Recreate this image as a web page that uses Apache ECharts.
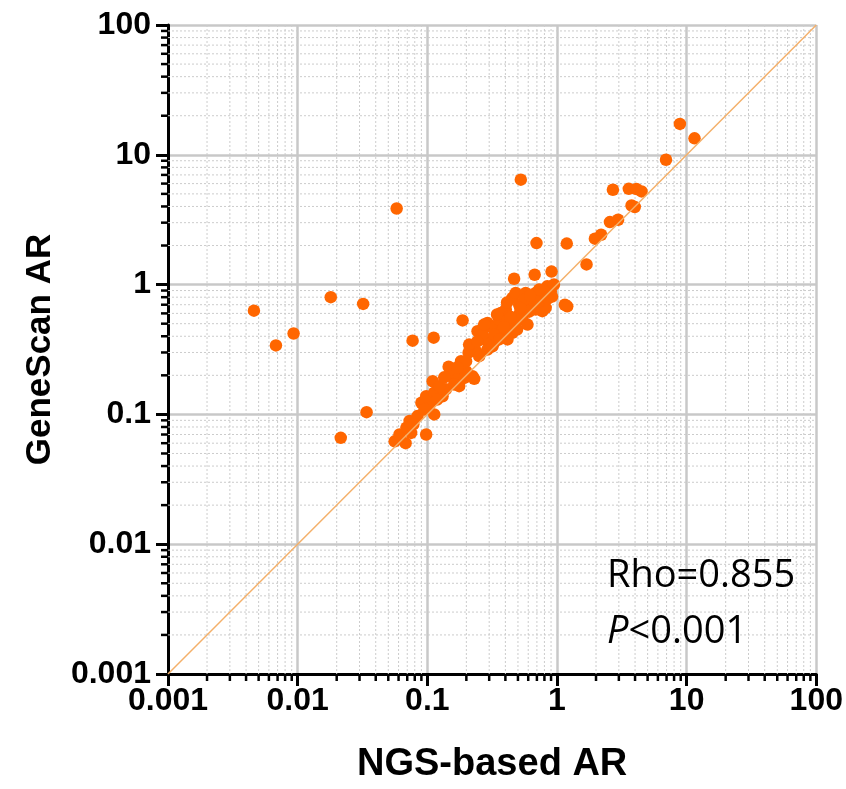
<!DOCTYPE html>
<html><head><meta charset="utf-8">
<script src="https://cdn.jsdelivr.net/npm/echarts@6/dist/echarts.min.js"></script>
<style>html,body{margin:0;padding:0;background:#fff}#c{width:846px;height:789px}</style>
</head><body><div id="c"></div>
<script>
// NGS-based AR (x) and GeneScan AR (y)
const ngsAR = [
  0.0046, 0.0068, 0.0093, 0.018, 0.032, 0.058, 0.077, 0.112, 0.187, 0.034,
  0.0215, 0.056, 0.068, 0.061, 0.075, 0.069, 0.073, 0.084, 0.098, 0.090,
  0.104, 0.113, 0.098, 0.131, 0.139, 0.113, 0.110, 0.124, 0.176, 0.146,
  0.152, 0.161, 0.176, 0.182, 0.199, 0.230, 0.208, 0.237, 0.223, 0.193,
  0.251, 0.199, 0.244, 0.300, 0.274, 0.327, 0.291, 0.300, 0.318, 0.266,
  0.291, 0.337, 0.379, 0.453, 0.415, 0.369, 0.403, 0.428, 0.541, 0.592,
  0.511, 0.610, 0.685, 0.771, 0.453, 0.481, 0.574, 0.685, 0.771, 0.841,
  0.895, 0.948, 0.818, 0.467, 0.673, 0.908, 1.15, 1.20, 0.695, 1.19,
  1.69, 1.96, 2.19, 2.56, 2.96, 3.76, 3.98, 2.70, 3.58, 4.10,
  4.49, 6.93, 8.87, 11.5, 0.526,
  0.358, 0.643, 0.728, 0.794, 0.327, 0.391, 0.467, 0.210, 0.170, 0.135,
  0.095, 0.078, 0.511, 0.610, 0.557, 0.412, 0.345, 0.274, 0.243, 0.358,
  0.492, 0.728, 0.916, 0.161, 0.119, 0.52, 0.62, 0.44, 0.39, 0.85
];
const geneScanAR = [
  0.63, 0.34, 0.42, 0.80, 0.71, 3.86, 0.37, 0.39, 0.53, 0.104,
  0.066, 0.062, 0.060, 0.070, 0.072, 0.079, 0.089, 0.097, 0.070, 0.123,
  0.119, 0.100, 0.138, 0.138, 0.156, 0.147, 0.180, 0.165, 0.165, 0.233,
  0.197, 0.210, 0.197, 0.257, 0.215, 0.188, 0.299, 0.307, 0.197, 0.191,
  0.281, 0.257, 0.438, 0.478, 0.378, 0.356, 0.316, 0.366, 0.335, 0.412,
  0.507, 0.478, 0.451, 0.425, 0.378, 0.605, 0.643, 0.570, 0.538, 0.492,
  0.701, 0.723, 0.643, 0.624, 0.791, 0.863, 0.863, 0.863, 0.791, 0.970,
  0.887, 1.00, 0.662, 1.11, 1.19, 1.26, 0.70, 0.68, 2.09, 2.07,
  1.43, 2.26, 2.42, 3.03, 3.16, 4.07, 3.96, 5.38, 5.47, 5.45,
  5.22, 9.16, 17.3, 13.4, 6.43,
  0.538, 0.767, 0.740, 0.884, 0.412, 0.519, 0.492, 0.345, 0.230, 0.193,
  0.109, 0.084, 0.588, 0.619, 0.767, 0.728, 0.588, 0.492, 0.365, 0.378,
  0.451, 0.916, 0.809, 0.170, 0.130, 0.66, 0.82, 0.56, 0.47, 0.78
];
const identityLine = [0.001, 100];
const tickLabels = ['0.001', '0.01', '0.1', '1', '10', '100'];
const axisMin = 0.001, axisMax = 100;
const statLine1 = 'Rho=0.855';
const statLine2 = '<0.001';

// minor (2..9 x 10^k) positions for the log axes
const minorVals = [];
for (let e = -3; e < 2; e++) {
  for (let m = 2; m <= 9; m++) minorVals.push(Number((m * Math.pow(10, e)).toPrecision(2)));
}

const points = ngsAR.map((x, i) => [x, geneScanAR[i]]);

function fmt(v) {
  const s = Number(Number(v).toPrecision(1));
  const idx = tickLabels.indexOf(String(s));
  return idx >= 0 ? tickLabels[idx] : String(s);
}

function minorSeries(dim) {
  return {
    type: 'custom', clip: false, silent: true, z: 1,
    data: minorVals.map(v => dim === 'x' ? [v, 1] : [1, v]),
    renderItem: function (params, api) {
      const cs = params.coordSys;
      if (dim === 'x') {
        const px = api.coord([api.value(0), 1])[0];
        const yb = cs.y + cs.height;
        return { type: 'group', children: [
          { type: 'line', shape: { x1: px, y1: cs.y, x2: px, y2: yb }, style: { stroke: '#cccccc', lineWidth: 1, lineDash: [2, 2] } },
          { type: 'line', shape: { x1: px, y1: yb, x2: px, y2: yb + 7 }, style: { stroke: '#000', lineWidth: 2.5 } }
        ]};
      } else {
        const py = api.coord([1, api.value(1)])[1];
        const xl = cs.x;
        return { type: 'group', children: [
          { type: 'line', shape: { x1: xl, y1: py, x2: xl + cs.width, y2: py }, style: { stroke: '#cccccc', lineWidth: 1, lineDash: [2, 2] } },
          { type: 'line', shape: { x1: xl, y1: py, x2: xl - 7, y2: py }, style: { stroke: '#000', lineWidth: 2.5 } }
        ]};
      }
    }
  };
}

const axisCommon = {
  type: 'log', logBase: 10, min: axisMin, max: axisMax,
  nameLocation: 'middle',
  axisLine: { show: true, onZero: false, lineStyle: { color: '#000', width: 3 } },
  axisTick: { show: true, inside: false, length: 12, lineStyle: { color: '#000', width: 3 } },
  splitLine: { show: true, lineStyle: { color: '#c8c8c8', width: 2.5 } },
  minorTick: { show: false }, minorSplitLine: { show: false }
};

const chart = echarts.init(document.getElementById('c'), null, { renderer: 'canvas' });
chart.setOption({
  animation: false,
  backgroundColor: '#fff',
  grid: { left: 168, right: 28, top: 25, bottom: 114, containLabel: false },
  xAxis: Object.assign({}, axisCommon, {
    name: 'NGS-based AR', nameGap: 72,
    nameTextStyle: { fontFamily: 'Liberation Sans', fontWeight: 'bold', fontSize: 38, color: '#000' },
    axisLabel: { margin: 11, formatter: fmt, fontFamily: 'Liberation Sans', fontWeight: 'bold', fontSize: 32, color: '#000' }
  }),
  yAxis: Object.assign({}, axisCommon, {
    name: 'GeneScan AR', nameGap: 110, nameRotate: 90,
    nameTextStyle: { fontFamily: 'Liberation Sans', fontWeight: 'bold', fontSize: 35, color: '#000' },
    axisLabel: { margin: 17, formatter: fmt, fontFamily: 'Liberation Sans', fontWeight: 'bold', fontSize: 32, color: '#000' }
  }),
  series: [
    minorSeries('x'),
    minorSeries('y'),
    {
      type: 'scatter', z: 3, data: points, symbol: 'circle', symbolSize: 12.5,
      itemStyle: { color: '#ff6600', opacity: 1 }
    },
    {
      type: 'line', z: 4, data: identityLine.map(v => [v, v]), showSymbol: false, symbol: 'none',
      lineStyle: { color: '#f4b06a', width: 1.5 }, silent: true
    }
  ],
  graphic: [
    { type: 'text', left: 607, top: 557, z: 10,
      style: { text: statLine1, font: '38px "Open Sans"', fill: '#000' } },
    { type: 'text', left: 607, top: 613, z: 10,
      style: { text: '{i|P}' + statLine2, font: '38px "Open Sans"', fill: '#000',
        rich: { i: { fontStyle: 'italic', fontFamily: 'Open Sans', fontSize: 38, fill: '#000' } } } }
  ]
});
</script>
</body></html>
